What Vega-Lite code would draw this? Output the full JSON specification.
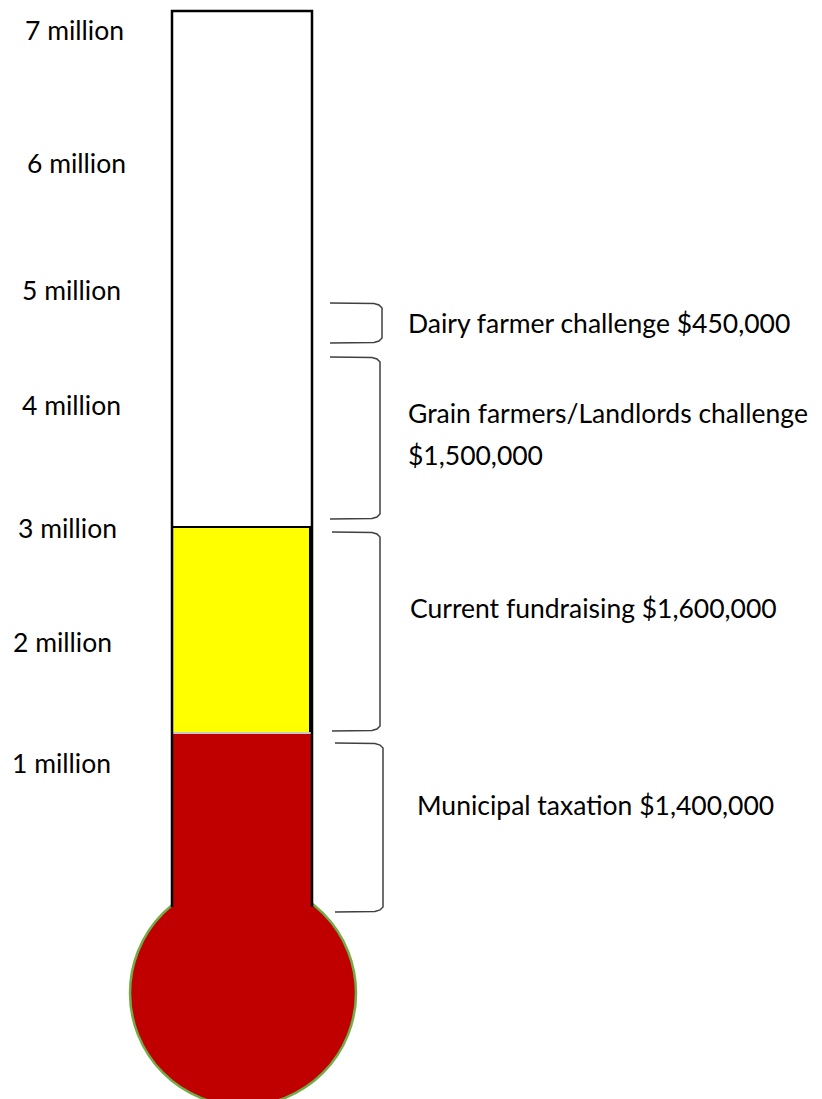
{
  "$schema": "https://vega.github.io/schema/vega-lite/v6.json",
  "width": 822,
  "height": 1099,
  "autosize": {"type": "none"},
  "padding": 0,
  "background": "white",
  "config": {"view": {"stroke": null}},
  "datasets": {
    "bulb": [{"x": 243, "y": -0.855}],
    "raised": [
      {"segment": "Current fundraising", "x1": 172, "x2": 310, "y1": 1.267, "y2": 2.949, "color": "#FFFF00"}
    ],
    "tax": [
      {"segment": "Municipal taxation", "x1": 172, "x2": 312, "y1": -0.34, "y2": 1.267}
    ],
    "divider": [{"x1": 173, "x2": 311, "y": 1.267}],
    "tube": [
      {"k": 1, "x": 172, "y": -0.153},
      {"k": 2, "x": 172, "y": 7.16},
      {"k": 3, "x": 312, "y": 7.16},
      {"k": 4, "x": 312, "y": -0.153}
    ],
    "braces": [
      {"id": "dairy", "k": 1, "x": 330, "y": 4.777},
      {"id": "dairy", "k": 2, "x": 374, "y": 4.773},
      {"id": "dairy", "k": 3, "x": 379, "y": 4.761},
      {"id": "dairy", "k": 4, "x": 382, "y": 4.736},
      {"id": "dairy", "k": 5, "x": 382, "y": 4.491},
      {"id": "dairy", "k": 6, "x": 379, "y": 4.467},
      {"id": "dairy", "k": 7, "x": 374, "y": 4.455},
      {"id": "dairy", "k": 8, "x": 330, "y": 4.450},
      {"id": "grain", "k": 1, "x": 330, "y": 4.336},
      {"id": "grain", "k": 2, "x": 372, "y": 4.332},
      {"id": "grain", "k": 3, "x": 377, "y": 4.320},
      {"id": "grain", "k": 4, "x": 380, "y": 4.295},
      {"id": "grain", "k": 5, "x": 380, "y": 3.055},
      {"id": "grain", "k": 6, "x": 377, "y": 3.030},
      {"id": "grain", "k": 7, "x": 372, "y": 3.018},
      {"id": "grain", "k": 8, "x": 330, "y": 3.014},
      {"id": "current", "k": 1, "x": 332, "y": 2.908},
      {"id": "current", "k": 2, "x": 372, "y": 2.904},
      {"id": "current", "k": 3, "x": 377, "y": 2.892},
      {"id": "current", "k": 4, "x": 380, "y": 2.867},
      {"id": "current", "k": 5, "x": 380, "y": 1.324},
      {"id": "current", "k": 6, "x": 377, "y": 1.300},
      {"id": "current", "k": 7, "x": 372, "y": 1.288},
      {"id": "current", "k": 8, "x": 332, "y": 1.284},
      {"id": "municipal", "k": 1, "x": 335, "y": 1.186},
      {"id": "municipal", "k": 2, "x": 375, "y": 1.182},
      {"id": "municipal", "k": 3, "x": 380, "y": 1.169},
      {"id": "municipal", "k": 4, "x": 383, "y": 1.145},
      {"id": "municipal", "k": 5, "x": 383, "y": -0.153},
      {"id": "municipal", "k": 6, "x": 380, "y": -0.177},
      {"id": "municipal", "k": 7, "x": 375, "y": -0.190},
      {"id": "municipal", "k": 8, "x": 335, "y": -0.194}
    ],
    "ticks": [
      {"label": "7 million", "x": 25, "y": 6.989},
      {"label": "6 million", "x": 27, "y": 5.904},
      {"label": "5 million", "x": 22, "y": 4.867},
      {"label": "4 million", "x": 22, "y": 3.928},
      {"label": "3 million", "x": 18, "y": 2.925},
      {"label": "2 million", "x": 13, "y": 1.994},
      {"label": "1 million", "x": 12, "y": 1.006}
    ],
    "notes": [
      {"label": "Dairy farmer challenge $450,000", "x": 408, "y": 4.598},
      {"label": "Grain farmers/Landlords challenge", "x": 408, "y": 3.863},
      {"label": "$1,500,000", "x": 408, "y": 3.52},
      {"label": "Current fundraising $1,600,000", "x": 410, "y": 2.272},
      {"label": "Municipal taxation $1,400,000", "x": 417, "y": 0.664}
    ]
  },
  "layer": [
    {
      "data": {"name": "bulb"},
      "mark": {"type": "point", "shape": "circle", "filled": true, "fill": "#C00000", "stroke": "#70AD47", "strokeWidth": 2.5, "size": 51076, "opacity": 1},
      "encoding": {
        "x": {"field": "x", "type": "quantitative", "scale": {"domain": [0, 822], "nice": false, "zero": false}, "axis": null},
        "y": {"field": "y", "type": "quantitative", "scale": {"domain": [-1.72, 7.25], "nice": false, "zero": false}, "axis": null}
      }
    },
    {
      "data": {"name": "raised"},
      "mark": {"type": "rect", "fill": "#FFFF00", "stroke": "black", "strokeWidth": 2},
      "encoding": {
        "x": {"field": "x1", "type": "quantitative"},
        "x2": {"field": "x2"},
        "y": {"field": "y1", "type": "quantitative"},
        "y2": {"field": "y2"}
      }
    },
    {
      "data": {"name": "tax"},
      "mark": {"type": "rect", "fill": "#C00000", "strokeWidth": 0},
      "encoding": {
        "x": {"field": "x1", "type": "quantitative"},
        "x2": {"field": "x2"},
        "y": {"field": "y1", "type": "quantitative"},
        "y2": {"field": "y2"}
      }
    },
    {
      "data": {"name": "divider"},
      "mark": {"type": "rule", "stroke": "#C8C8C8", "strokeWidth": 2},
      "encoding": {
        "x": {"field": "x1", "type": "quantitative"},
        "x2": {"field": "x2"},
        "y": {"field": "y", "type": "quantitative"}
      }
    },
    {
      "data": {"name": "tube"},
      "mark": {"type": "line", "stroke": "black", "strokeWidth": 2.5, "strokeJoin": "miter"},
      "encoding": {
        "x": {"field": "x", "type": "quantitative"},
        "y": {"field": "y", "type": "quantitative"},
        "order": {"field": "k"}
      }
    },
    {
      "data": {"name": "braces"},
      "mark": {"type": "line", "stroke": "#404040", "strokeWidth": 1.5},
      "encoding": {
        "x": {"field": "x", "type": "quantitative"},
        "y": {"field": "y", "type": "quantitative"},
        "detail": {"field": "id"},
        "order": {"field": "k"}
      }
    },
    {
      "data": {"name": "ticks"},
      "mark": {"type": "text", "align": "left", "baseline": "middle", "font": "Lato", "fontSize": 26.5, "color": "black"},
      "encoding": {
        "x": {"field": "x", "type": "quantitative"},
        "y": {"field": "y", "type": "quantitative"},
        "text": {"field": "label"}
      }
    },
    {
      "data": {"name": "notes"},
      "mark": {"type": "text", "align": "left", "baseline": "middle", "font": "Lato", "fontSize": 26.5, "color": "black"},
      "encoding": {
        "x": {"field": "x", "type": "quantitative"},
        "y": {"field": "y", "type": "quantitative"},
        "text": {"field": "label"}
      }
    }
  ]
}
